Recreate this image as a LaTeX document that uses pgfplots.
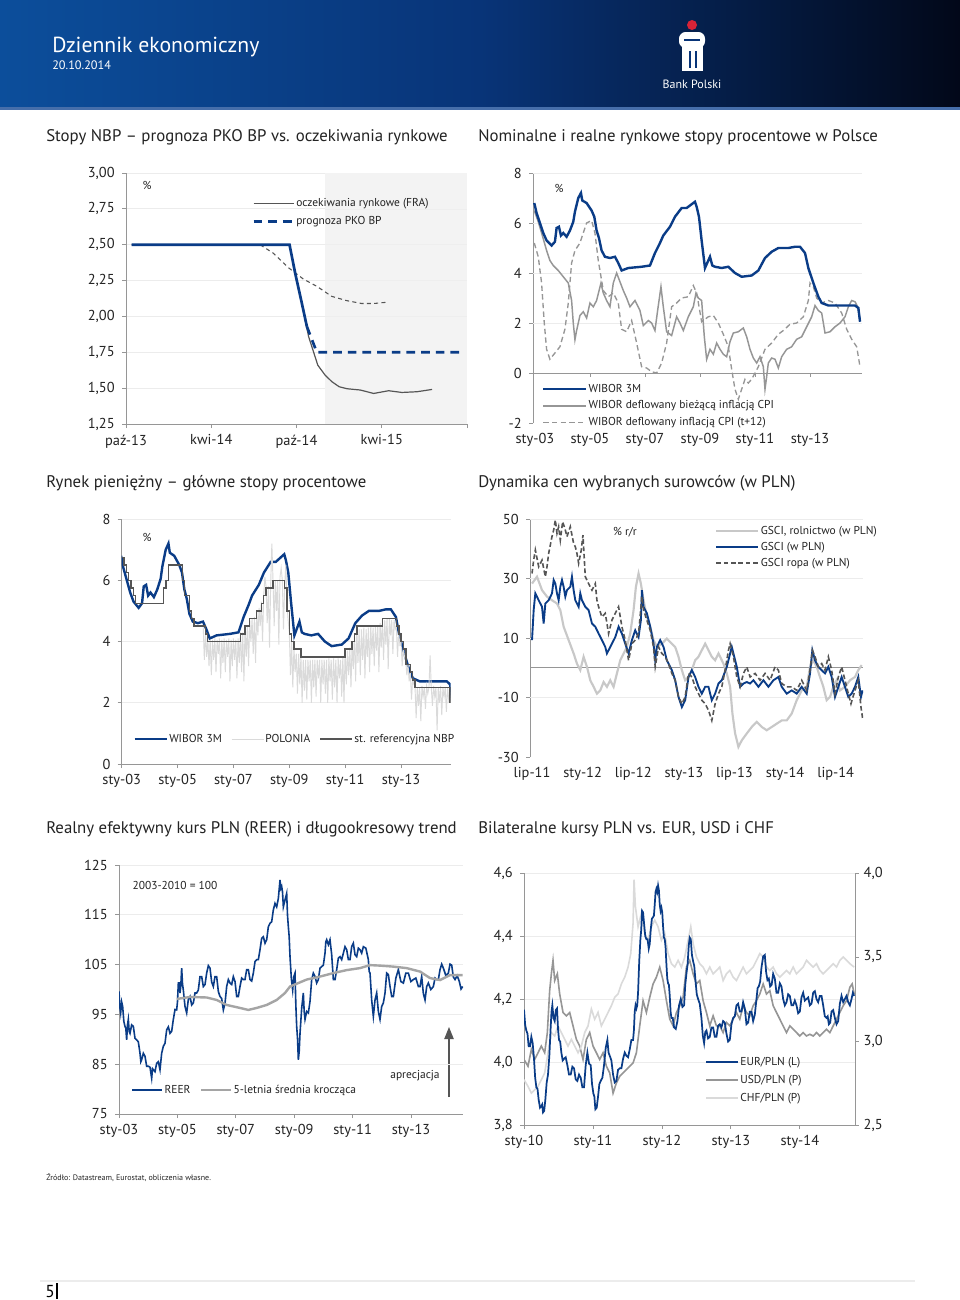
\documentclass[border=0pt]{standalone}
\usepackage{fontspec}
\setmainfont{PT Sans}
\usepackage{pgfplots}
\pgfplotsset{compat=1.18}
\usepackage{pgfplotstable}
\usetikzlibrary{arrows.meta}

\definecolor{pkoblue}{RGB}{10,60,135}
\definecolor{darkgr}{RGB}{85,85,85}
\definecolor{midgr}{RGB}{150,150,150}
\definecolor{ltgr}{RGB}{218,218,218}
\definecolor{agr}{RGB}{200,200,200}
\definecolor{avggr}{RGB}{165,165,165}
\definecolor{axisgr}{RGB}{150,150,150}
\definecolor{gridgr}{RGB}{236,236,236}
\definecolor{shadegr}{RGB}{243,243,243}
\definecolor{txt}{RGB}{35,35,35}
\definecolor{hdrL}{RGB}{12,78,155}
\definecolor{hdrM}{RGB}{8,52,120}
\definecolor{hdrR}{RGB}{2,8,25}
\definecolor{hdrline}{RGB}{70,110,170}
\definecolor{pkored}{RGB}{215,35,55}

\pgfplotsset{
  pk/.style={
    scale only axis, anchor=south west,
    axis lines*=left,
    axis line style={draw=axisgr, line width=0.6pt},
    tick align=outside, major tick length=3pt,
    tick style={draw=axisgr, line width=0.6pt},
    major grid style={draw=gridgr, line width=0.6pt},
    ticklabel style={font=\fontsize{10.8}{12}\selectfont, text=txt},
    /pgf/number format/assume math mode=true,
    yticklabel style={xshift=-2pt},
    xticklabel style={yshift=-1.5pt},
    legend cell align=left,
    legend style={draw=none, fill=none, font=\fontsize{8.6}{10}\selectfont, text=txt,
      inner sep=0pt, nodes={inner sep=1pt, text height=6.5pt, text depth=2pt}},
  },
}

% WIBOR 3M (x: chart-2 pixel column, y: %)
\pgfplotstableread{
178 6.8
185 6.4
195 6.0
205 5.6
215 5.3
230 5.1
240 5.25
245 5.8
252 5.85
258 5.5
265 5.6
275 5.45
285 5.7
295 6.05
300 6.45
310 7.0
318 7.2
322 6.9
335 6.8
350 6.5
358 6.25
365 5.7
372 5.4
380 4.9
390 4.65
405 4.6
420 4.65
430 4.4
440 4.1
460 4.2
500 4.25
525 4.3
540 4.8
555 5.2
565 5.5
585 5.85
600 6.25
620 6.6
635 6.6
645 6.7
660 6.85
665 6.65
672 6.25
680 5.3
690 4.2
700 4.5
705 4.65
712 4.3
720 4.25
740 4.2
760 4.25
780 4.0
800 3.85
830 3.9
850 4.1
870 4.6
890 4.85
910 5.0
940 5.0
960 5.05
975 5.05
990 4.8
1000 4.2
1015 3.6
1030 3.05
1040 2.8
1060 2.7
1140 2.7
1150 2.6
1155 2.05
}\wibor

\begin{document}
\begin{tikzpicture}
\begin{scope}[x=0.75pt,y=-0.75pt]
\fill[white] (0,0) rectangle (960,1300);
\shade[left color=hdrL,right color=hdrM] (0,0) rectangle (480,108);
\shade[left color=hdrM,right color=hdrR] (480,0) rectangle (960,108);
\fill[hdrline] (0,107) rectangle (960,110);
\node[anchor=base west, text=white, font=\fontsize{16.3}{18}\selectfont, inner sep=0] at (52,52) {Dziennik ekonomiczny};
\node[anchor=base west, text=white, font=\fontsize{9.2}{10}\selectfont, inner sep=0] at (52,69) {20.10.2014};
% logo
\fill[pkored] (692,25) circle (5);
\fill[white, rounded corners=5] (679,32) rectangle (705,48);
\fill[white] (682,45) rectangle (703,71);
\fill[hdrM] (684,38.5) rectangle (700,41);
\fill[hdrM] (688.5,51) rectangle (690.5,68);
\fill[hdrM] (695,51) rectangle (697,68);
\node[text=white, font=\fontsize{9}{10}\selectfont] at (692,84) {Bank Polski};
% titles
\begin{scope}[every node/.style={anchor=base west, inner sep=0, text=txt, font=\fontsize{12.6}{14}\selectfont}]
\node at (46,141) {Stopy NBP – prognoza PKO BP vs. oczekiwania rynkowe};
\node at (478,141) {Nominalne i realne rynkowe stopy procentowe w Polsce};
\node at (46,487) {Rynek pieniężny – główne stopy procentowe};
\node at (478,487) {Dynamika cen wybranych surowców (w PLN)};
\node at (46,833) {Realny efektywny kurs PLN (REER) i długookresowy trend};
\node at (478,833) {Bilateralne kursy PLN vs. EUR, USD i CHF};
\end{scope}
% annotations
\begin{scope}[every node/.style={inner sep=0, text=txt, font=\fontsize{8.6}{10}\selectfont}]
\node at (147,185) {\%};
\node at (383,322) {3 miesiące temu};
\node at (401,403) {obecnie};
\node at (559,188) {\%};
\node at (147,537) {\%};
\node at (625,532) {\% r/r};
\node at (175,885) {2003-2010 = 100};
\node at (415,1076) {aprecjacja};
\end{scope}
\draw[darkgr, line width=0.8pt, -{Triangle[length=9pt,width=7pt]}] (449,1097) -- (449,1027);
% footer
\node[anchor=base west, inner sep=0, text=txt, font=\fontsize{6}{7}\selectfont] at (46,1180) {Źródło: Datastream, Eurostat, obliczenia własne.};
\draw[gridgr, line width=0.8pt] (40,1281) -- (915,1281);
\node[anchor=base west, inner sep=0, text=black, font=\fontsize{13}{15}\selectfont] at (45,1297) {5};
\draw[black, line width=1pt] (57,1283) -- (57,1299);
\end{scope}

%================ Chart 1
\begin{axis}[pk, at={(94.5pt,-318pt)}, width=255.75pt, height=188.25pt,
  xmin=0, xmax=24, ymin=1.25, ymax=3.0,
  xtick={0,6,12,18,24}, xticklabels={paź-13,kwi-14,paź-14,kwi-15,},
  ytick={1.25,1.5,1.75,2,2.25,2.5,2.75,3},
  yticklabel={\pgfmathprintnumber[fixed,fixed zerofill,precision=2,use comma]{\tick}},
  ymajorgrids,
  legend style={at={(0.3695,0.908)}, anchor=north west, row sep=3pt},
  legend image code/.code={\draw[#1] (0pt,0pt) -- (30pt,0pt);},
]
\fill[shadegr] (axis cs:14,1.25) rectangle (axis cs:24,3.0);
\pgfplotsinvokeforeach{2,2.25,2.5,2.75}{\draw[gridgr!70!shadegr, line width=0.4pt] (axis cs:14,#1) -- (axis cs:24,#1);}
\addplot[darkgr, line width=0.9pt] table {
0.4 2.5
11.51 2.5
11.91 2.30
12.38 2.09
12.85 1.86
13.5 1.66
14.02 1.59
14.49 1.545
15.0 1.51
15.55 1.496
16.49 1.487
17.43 1.463
18.48 1.482
19.42 1.470
20.48 1.475
21.54 1.491
};
\addlegendentry{oczekiwania rynkowe (FRA)}
\addplot[darkgr, line width=0.8pt, dash pattern=on 3pt off 2.5pt, forget plot] table {
9.44 2.5
10.38 2.44
11.43 2.34
12.49 2.26
13.43 2.21
14.48 2.14
15.54 2.11
16.6 2.09
17.42 2.09
18.47 2.10
};
\addplot[pkoblue, line width=2pt, forget plot] table {
0.4 2.5
11.51 2.5
11.91 2.30
12.38 2.09
12.73 1.93
};
\addplot[pkoblue, line width=2pt, dash pattern=on 6.5pt off 4.5pt] table {
12.73 1.93
13.43 1.75
23.65 1.75
};
\addlegendentry{prognoza PKO BP}
\end{axis}

%================ Chart 2
\begin{axis}[pk, at={(399.75pt,-317.25pt)}, width=246.75pt, height=187.5pt,
  xmin=2002.93, xmax=2014.89, ymin=-2, ymax=8,
  xtick={2003,2005,2007,2009,2011,2013}, xticklabels={sty-03,sty-05,sty-07,sty-09,sty-11,sty-13},
  x axis line style={draw=none}, xtick style={draw=none},
  ytick={-2,0,2,4,6,8},
  reverse legend,
  legend style={at={(0.027,0.164)}, anchor=north west, row sep=1.9pt},
  legend image code/.code={\draw[#1] (0pt,0pt) -- (32pt,0pt);},
]
\pgfplotsinvokeforeach{2,4,6,8}{\draw[gridgr, line width=0.6pt] (axis cs:2002.93,#1) -- (axis cs:2014.89,#1);}
\draw[axisgr, line width=0.7pt] (axis cs:2002.93,0) -- (axis cs:2014.89,0);
\pgfplotsinvokeforeach{2005,2007,2009,2011,2013}{\draw[axisgr, line width=0.6pt] (axis cs:#1,0) -- (axis cs:#1,-0.16);}
\addplot[midgr, line width=1pt, dash pattern=on 4pt off 2.5pt] table[x expr={2003+(\thisrowno{0}-180)/82.5}, y index=1] {
178 5.2
190 4.65
200 3.6
208 2.0
215 0.95
225 0.55
240 0.8
255 1.05
270 1.75
280 2.8
290 4.4
300 4.9
315 5.2
335 6.0
350 6.1
360 5.6
370 4.5
385 3.3
400 3.05
415 3.2
430 2.8
440 1.75
455 1.65
470 2.1
485 1.2
500 0.25
515 0.2
530 0.05
545 0.0
560 0.4
575 1.2
590 2.65
605 2.8
620 3.0
640 3.05
655 3.5
665 3.2
680 2.05
700 2.25
715 2.3
730 2.0
745 1.55
760 1.05
770 0.15
780 -0.65
790 -1.05
800 -0.65
810 -0.25
820 -0.4
830 -0.25
840 0.0
850 0.25
870 0.95
890 1.2
910 1.55
925 1.7
945 1.95
965 2.0
985 2.25
1000 2.9
1005 3.6
1015 3.45
1025 3.0
1040 2.8
1060 2.9
1080 2.8
1100 2.4
1115 1.75
1130 1.35
1145 1.05
1155 0.25
};
\addlegendentry{WIBOR deflowany inflacją CPI (t+12)}
\addplot[midgr, line width=1.1pt] table[x expr={2003+(\thisrowno{0}-180)/82.5}, y index=1] {
178 6.5
190 6.05
200 5.6
215 4.9
225 4.5
235 4.3
250 4.1
265 3.85
280 3.6
290 2.9
295 2.0
300 1.33
305 1.7
315 2.3
325 2.45
335 2.2
345 2.8
355 2.65
365 2.9
378 3.6
385 3.2
395 2.9
405 2.65
415 3.6
425 4.0
435 3.65
445 3.3
455 3.0
465 2.65
480 2.9
495 2.5
505 1.9
520 2.1
530 2.0
540 1.7
548 2.5
558 3.45
565 2.65
575 1.65
590 1.5
605 2.25
615 2.0
625 1.7
640 2.25
655 2.65
663 3.2
670 3.0
680 2.9
688 1.45
695 0.55
705 0.95
715 0.75
725 1.2
735 0.95
745 0.75
755 0.65
765 1.25
775 1.6
790 1.65
805 1.8
815 1.45
825 0.95
835 0.6
845 0.4
855 0.65
865 0.25
870 -0.65
875 -0.15
880 0.4
890 0.6
900 0.55
910 0.2
920 0.65
935 0.95
950 1.05
965 1.35
980 1.45
995 1.85
1010 2.25
1020 2.7
1030 2.5
1040 2.4
1050 1.6
1065 1.65
1080 1.85
1095 2.0
1110 2.25
1120 2.65
1130 2.9
1140 2.85
1148 2.65
1155 2.1
};
\addlegendentry{WIBOR deflowany bieżącą inflacją CPI}
\addplot[pkoblue, line width=1.8pt] table[x expr={2003+(\thisrowno{0}-180)/82.5}, y index=1] {\wibor};
\addlegendentry{WIBOR 3M}
\end{axis}

%================ Chart 3
\begin{axis}[pk, at={(91.3pt,-573pt)}, width=246.75pt, height=183.75pt,
  xmin=2003, xmax=2014.78, ymin=0, ymax=8,
  xtick={2003,2005,2007,2009,2011,2013}, xticklabels={sty-03,sty-05,sty-07,sty-09,sty-11,sty-13},
  ytick={0,2,4,6,8}, ymajorgrids,
  legend columns=3,
  legend style={at={(0.035,0.131)}, anchor=north west, /tikz/every even column/.append style={column sep=6pt}},
  legend image code/.code={\draw[#1] (0pt,0pt) -- (24pt,0pt);},
]
\addplot[pkoblue, line width=1.8pt] table[x expr={2003+(\thisrowno{0}-180)/82.5}, y index=1] {\wibor};
\addlegendentry{WIBOR 3M}
\addplot[ltgr, line width=0.7pt] table[x expr={2003+\thisrowno{0}/12}, y index=1] {
35 4.5
35.5 3.4
36 4.3
36.5 3.5
37 4.05
37.5 3.2
38 4.05
38.5 2.9
39 4.05
39.5 3.4
40 4.1
40.5 3.0
41 4.05
41.5 3.6
42 4.1
42.5 2.8
43 4.05
43.5 3.3
44 4.1
44.5 3.0
45 4.05
45.5 3.5
46 4.1
46.5 2.7
47 4.05
47.5 3.2
48 4.1
48.5 3.4
49 4.05
49.5 2.8
50 4.1
50.5 3.3
51 4.3
51.5 3.0
52 4.3
52.5 2.7
53 4.5
53.5 3.5
54 4.5
54.5 3.2
55 4.7
55.5 4.0
56 4.75
56.5 3.6
57 4.8
57.5 3.3
58 5.0
58.5 4.2
59 5.1
59.5 4.5
60 5.3
60.5 4.0
61 5.5
61.5 6.1
62 5.8
62.5 4.6
63 5.8
63.5 3.8
64 5.9
64.5 7.2
65 6.0
65.5 4.5
66 6.0
66.5 5.0
67 6.0
67.5 3.9
68 6.1
68.5 6.4
69 6.0
69.5 4.4
70 5.8
70.5 6.5
71 5.2
71.5 4.7
72 4.3
72.5 2.9
73 4.0
73.5 2.5
74 3.8
74.5 3.0
75 3.6
75.5 2.3
76 3.6
76.5 2.6
77 3.5
77.5 2.0
78 3.4
78.5 2.4
79 3.4
79.5 2.1
80 3.4
80.5 2.7
81 3.4
81.5 2.0
82 3.4
82.5 2.5
83 3.4
83.5 2.2
84 3.4
84.5 2.8
85 3.4
85.5 2.0
86 3.4
86.5 2.6
87 3.4
87.5 2.3
88 3.4
88.5 2.0
89 3.45
89.5 2.7
90 3.4
90.5 2.1
91 3.45
91.5 2.5
92 3.4
92.5 2.0
93 3.45
93.5 2.8
94 3.4
94.5 2.2
95 3.5
95.5 2.0
96 3.7
96.5 2.6
97 3.7
97.5 2.9
98 3.8
98.5 2.5
99 4.0
99.5 3.1
100 4.2
100.5 2.7
101 4.4
101.5 3.3
102 4.4
102.5 2.9
103 4.4
103.5 3.4
104 4.45
104.5 2.8
105 4.4
105.5 3.5
106 4.45
106.5 3.0
107 4.5
107.5 3.6
108 4.45
108.5 3.2
109 4.5
109.5 3.7
110 4.5
110.5 3.0
111 4.6
111.5 3.8
112 4.7
112.5 3.4
113 4.7
113.5 3.9
114 4.75
114.5 3.1
115 4.75
115.5 4.2
116 4.7
116.5 3.6
117 4.7
117.5 4.4
118 4.5
118.5 3.5
119 4.3
119.5 3.9
120 4.0
120.5 3.2
121 3.8
121.5 3.5
122 3.4
122.5 2.9
123 3.25
123.5 2.7
124 3.0
124.5 2.1
125 2.8
125.5 2.6
126 2.55
126.5 1.5
127 2.5
127.5 1.9
128 2.5
128.5 1.4
129 2.55
129.5 2.2
130 2.5
130.5 1.8
131 2.55
131.5 2.3
132 2.5
132.5 3.55
133 2.5
133.5 1.9
134 2.55
134.5 2.2
135 2.5
135.5 1.1
136 2.5
136.5 2.0
137 2.55
137.5 1.6
138 2.5
138.5 2.2
139 2.5
139.5 1.7
140 2.5
140.5 2.1
141 2.3
141.3 2.0
};
\addlegendentry{POLONIA}
\addplot[darkgr, line width=1.1pt, const plot] table {
2003.00 6.75
2003.08 6.50
2003.17 6.25
2003.25 6.00
2003.33 5.75
2003.42 5.50
2003.50 5.25
2004.50 5.75
2004.58 6.00
2004.67 6.50
2005.17 6.00
2005.25 5.50
2005.42 5.00
2005.50 4.75
2005.58 4.50
2006.00 4.25
2006.08 4.00
2007.25 4.25
2007.42 4.50
2007.58 4.75
2007.83 5.00
2008.00 5.25
2008.08 5.50
2008.17 5.75
2008.42 6.00
2008.83 5.75
2008.92 5.00
2009.00 4.25
2009.08 4.00
2009.17 3.75
2009.42 3.50
2011.00 3.75
2011.25 4.00
2011.33 4.25
2011.42 4.50
2012.33 4.75
2012.83 4.50
2012.92 4.25
2013.00 4.00
2013.08 3.75
2013.17 3.25
2013.33 3.00
2013.42 2.75
2013.50 2.50
2014.75 2.00
2014.78 2.00
};
\addlegendentry{st. referencyjna NBP}
\end{axis}

%================ Chart 4
\begin{axis}[pk, at={(397.5pt,-567.75pt)}, width=249.75pt, height=178.5pt,
  xmin=2011.48, xmax=2014.77, ymin=-30, ymax=50,
  xtick={2011.5,2012,2012.5,2013,2013.5,2014,2014.5},
  xticklabels={lip-11,sty-12,lip-12,sty-13,lip-13,sty-14,lip-14},
  x axis line style={draw=none}, xtick style={draw=none},
  ytick={-30,-10,10,30,50},
  legend style={at={(0.556,0.979)}, anchor=north west, row sep=1.5pt},
  legend image code/.code={\draw[#1] (0pt,0pt) -- (31.5pt,0pt);},
]
\pgfplotsinvokeforeach{-10,10,30,50}{\draw[gridgr, line width=0.6pt] (axis cs:2011.48,#1) -- (axis cs:2014.77,#1);}
\draw[midgr, line width=0.8pt] (axis cs:2011.48,0) -- (axis cs:2014.77,0);
\addplot[agr, line width=1.6pt] table[x expr={2011.5+(\thisrowno{0}-170)/304}, y index=1] {
170 28.3
185 30.6
200 26.1
215 23.9
230 22.7
245 21.6
255 19.4
265 13.8
280 9.3
295 4.8
305 1.4
315 -0.8
325 3.7
335 0.3
345 -4.2
355 -6.4
365 -8.7
375 -7.6
385 -4.8
395 -6.4
405 -4.2
415 -6.4
425 -1.9
435 2.5
445 4.8
455 7.0
465 11.5
475 19.4
482 27.2
490 31.7
497 28.3
505 22.7
515 17.1
525 13.8
535 9.3
545 7.0
560 8.1
575 9.8
590 8.1
600 7.0
610 3.7
620 -0.8
630 -4.2
640 -3.1
650 -0.8
660 2.5
670 3.7
680 5.9
690 8.1
700 5.9
710 3.7
720 2.5
730 4.8
745 1.4
755 -1.9
765 -6.4
772 -15.4
780 -22.1
790 -26.6
800 -24.4
815 -22.1
830 -19.9
845 -18.2
860 -19.9
875 -21.0
890 -19.9
905 -18.8
920 -17.7
935 -17.7
950 -15.4
965 -10.9
980 -7.6
995 -6.4
1005 0.3
1015 2.5
1025 0.3
1035 -3.1
1045 -6.4
1055 -10.9
1065 -9.8
1075 -6.4
1085 -4.2
1095 -7.6
1110 -6.4
1125 -4.2
1140 -3.1
1150 -0.8
1160 0.9
};
\addlegendentry{GSCI, rolnictwo (w PLN)}
\addplot[pkoblue, line width=1.4pt] table[x expr={2011.5+(\thisrowno{0}-170)/304}, y index=1] {
170 9.3
175 19.4
180 25.0
190 22.7
200 20.5
205 14.9
210 21.6
220 22.7
230 25.0
235 29.5
240 28.3
245 25.0
250 22.7
255 27.2
260 29.5
265 27.2
270 23.9
275 26.1
285 27.2
290 30.6
295 26.1
300 22.7
310 20.5
315 25.0
320 22.7
330 20.5
340 19.4
350 14.9
360 13.8
370 11.5
380 9.3
390 7.0
395 4.8
400 5.9
410 8.1
420 10.3
430 13.8
440 11.5
450 8.1
460 4.8
470 9.3
480 12.6
490 10.3
497 16.0
500 26.1
505 20.5
515 18.3
525 13.8
535 8.1
540 2.5
545 7.0
555 9.3
565 7.0
575 2.5
590 -0.8
600 -4.2
610 -9.8
620 -13.2
630 -10.9
640 -3.1
650 -0.8
660 -3.1
670 -6.4
680 -8.7
690 -6.4
700 -6.4
710 -10.9
720 -8.7
730 -5.3
740 -4.2
755 0.3
765 4.8
770 7.0
775 4.8
785 0.3
795 -6.4
805 -5.3
815 -4.8
825 -5.3
835 -4.2
850 -6.4
865 -4.2
880 -6.4
895 -4.2
910 -3.1
920 -6.4
935 -8.7
950 -7.6
965 -8.7
980 -6.4
995 -8.7
1005 -1.9
1012 5.9
1020 2.5
1030 0.3
1040 -0.8
1050 -1.9
1060 0.3
1070 -3.1
1080 -9.8
1090 -6.4
1100 -3.1
1110 -6.4
1120 -9.8
1130 -8.7
1140 -6.4
1150 -3.1
1158 -9.8
1163 -7.6
};
\addlegendentry{GSCI (w PLN)}
\addplot[darkgr, line width=1.2pt, dash pattern=on 3.5pt off 2pt] table[x expr={2011.5+(\thisrowno{0}-170)/304}, y index=1] {
170 31.7
175 36.2
180 39.6
190 34.0
200 36.2
210 30.6
215 34.0
220 38.4
230 44.1
235 46.3
240 49.7
245 45.2
250 47.4
255 42.9
262 49.1
270 46.3
275 44.1
285 47.4
295 41.8
300 40.7
305 38.4
310 35.1
318 39.6
323 44.6
330 30.6
340 28.3
350 26.1
360 28.3
365 22.7
370 20.5
380 17.1
390 18.3
400 11.5
410 16.0
420 18.3
430 20.5
440 13.8
450 9.3
460 2.5
470 8.1
480 9.3
490 11.5
500 23.9
505 19.4
515 16.0
525 12.6
535 7.0
540 0.3
550 7.0
560 4.8
570 3.7
580 1.4
590 -1.9
600 -4.2
610 -9.8
620 -12.1
630 -9.8
640 -1.9
650 -3.1
660 -6.4
670 -8.7
680 -10.9
690 -12.1
700 -14.3
710 -17.7
720 -12.1
730 -8.7
740 -6.4
750 -0.8
760 5.9
765 8.1
775 3.7
785 -3.1
795 -6.4
805 -1.9
815 0.3
825 -3.1
840 -1.9
855 -4.2
870 -1.9
885 -4.2
900 0.3
910 -0.8
920 -5.3
935 -6.4
950 -6.4
965 -7.6
980 -4.2
995 -7.6
1005 -0.8
1012 5.9
1020 3.7
1030 0.3
1040 1.4
1050 -0.8
1060 3.7
1070 -0.8
1080 -8.7
1090 -3.1
1100 0.3
1110 -4.2
1120 -8.7
1128 -12.1
1140 -7.6
1150 -4.2
1158 -13.2
1163 -17.1
};
\addlegendentry{GSCI ropa (w PLN)}
\end{axis}

%================ Chart 5
\begin{axis}[pk, at={(89.25pt,-835.5pt)}, width=258pt, height=186.75pt,
  xmin=2003, xmax=2014.78, ymin=75, ymax=125,
  xtick={2003,2005,2007,2009,2011,2013}, xticklabels={sty-03,sty-05,sty-07,sty-09,sty-11,sty-13},
  ytick={75,85,95,105,115,125}, ymajorgrids,
  legend columns=2,
  legend style={at={(0.036,0.1245)}, anchor=north west, /tikz/every even column/.append style={column sep=6pt}},
  legend image code/.code={\draw[#1] (0pt,0pt) -- (22.5pt,0pt);},
]
\addplot[pkoblue, line width=1.2pt] table[x expr={2003+(\thisrowno{0}-237)/87.6}, y index=1] {
237 99.6
239.5 96.5
242 95.3
245 97.5
248 96.6
251.5 93.6
255 92.6
257.5 92.2
260 89.9
262.5 92.9
265 94.0
267.5 91.6
270 91.2
275 92.9
280 92.6
285 90.2
290 89.9
295 89.5
300 87.2
302.5 85.5
305 85.9
310 87.2
315 86.6
320 84.6
325 84.6
330 84.4
335 82.2
337.5 84.1
340 83.9
345 83.5
350 85.2
355 85.5
360 83.9
365 87.2
370 88.6
375 89.2
380 91.9
385 92.5
390 91.2
395 91.6
400 94.0
405 96.0
410 95.9
412.5 97.6
415 101.3
417.5 101.3
420 99.3
422.5 100.8
425 104.3
427.5 101.1
430 99.9
435 96.6
440 95.3
445 98.0
450 98.6
455 96.9
460 97.3
465 99.3
470 99.3
475 99.9
480 102.6
485 102.6
490 100.6
495 101.0
500 103.3
505 104.8
510 104.3
515 101.5
520 100.6
525 102.6
530 102.6
535 99.6
540 98.6
545 98.2
550 95.9
555 97.2
560 100.6
565 102.0
570 101.3
575 101.0
580 102.6
585 101.6
590 98.6
595 98.6
600 100.6
605 102.3
610 102.0
615 102.0
620 104.0
625 104.0
630 102.0
635 101.7
640 103.3
645 105.6
650 106.0
655 106.0
660 108.0
665 110.3
670 110.6
675 109.3
680 110.0
685 112.6
690 113.3
695 113.6
700 116.0
705 117.3
710 116.6
715 118.3
720 122.0
722.5 120.3
725 120.7
727.5 119.6
730 116.6
735 118.0
740 119.3
742.5 114.9
745 112.6
747.5 110.6
750 106.6
754 102.2
758 99.9
761.5 102.6
765 103.3
767.5 96.9
770 92.6
772.5 90.2
775 85.9
777.5 87.5
780 91.2
785 96.2
790 99.3
792.5 95.6
795 94.0
800 95.6
805 95.3
810 97.6
815 102.0
820 103.3
825 102.6
830 101.3
835 102.0
840 104.3
845 104.6
850 104.9
855 107.3
857.5 109.6
860 110.0
865 109.0
870 110.0
875 107.0
880 102.0
885 102.0
890 104.0
895 106.3
900 106.6
905 106.0
910 107.3
915 108.6
920 108.0
925 106.0
930 106.0
935 108.6
940 109.3
945 107.0
950 106.6
955 108.3
960 108.0
965 107.3
970 108.6
977.5 108.3
985 106.0
987.5 103.6
990 103.3
995 97.9
1000 94.6
1005 97.9
1010 99.3
1015 95.6
1020 94.0
1025 96.6
1030 97.3
1035 99.3
1040 103.3
1045 103.0
1050 100.6
1055 98.6
1060 98.6
1067.5 102.3
1075 104.0
1082.5 101.6
1090 101.3
1097.5 103.3
1105 103.3
1112.5 101.6
1120 102.0
1127.5 102.3
1135 100.6
1140 100.6
1145 102.6
1150 99.2
1155 97.9
1160 100.6
1165 101.3
1172.5 100.0
1180 100.6
1185 102.3
1190 102.0
1195 102.0
1200 104.0
1205 105.1
1210 104.3
1217.5 102.8
1225 103.3
1230 105.1
1235 104.9
1240 102.5
1245 102.0
1251.5 102.8
1258 101.6
1263 100.1
1268 100.6
};
\addlegendentry{REER}
\addplot[avggr, line width=1.8pt] table[x expr={2003+(\thisrowno{0}-237)/87.6}, y index=1] {
410 98.1
450 98.5
500 98.4
530 97.9
560 96.9
600 96.3
625 95.9
650 96.3
680 96.9
710 97.9
735 99.3
750 100.6
775 101.3
800 102.0
840 102.6
880 103.3
920 103.9
960 104.3
990 104.9
1020 104.8
1060 104.6
1100 104.3
1140 103.6
1170 102.3
1200 101.9
1230 102.9
1268 102.9
};
\addlegendentry{5-letnia średnia krocząca}
\end{axis}

%================ Chart 6 (left axis frame and grid)
\begin{axis}[pk, at={(393pt,-843.75pt)}, width=248.25pt, height=189pt,
  xmin=2010, xmax=2014.8, ymin=3.8, ymax=4.6,
  xtick={2010,2011,2012,2013,2014}, xticklabels={sty-10,sty-11,sty-12,sty-13,sty-14},
  ytick={3.8,4.0,4.2,4.4,4.6}, ymajorgrids,
  yticklabel={\pgfmathprintnumber[fixed,fixed zerofill,precision=1,use comma]{\tick}},
]
\end{axis}
% right axis with USD, CHF and the legend
\begin{axis}[pk, at={(393pt,-843.75pt)}, width=248.25pt, height=189pt,
  axis x line=none, axis y line*=right,
  xmin=2010, xmax=2014.8, ymin=2.5, ymax=4.0,
  ytick={2.5,3.0,3.5,4.0},
  yticklabel style={xshift=2pt},
  yticklabel={\pgfmathprintnumber[fixed,fixed zerofill,precision=1,use comma]{\tick}},
  legend style={at={(0.547,0.278)}, anchor=north west, row sep=3pt},
  legend image code/.code={\draw[#1] (0pt,0pt) -- (24pt,0pt);},
]
\addlegendimage{pkoblue, line width=1.3pt}
\addlegendentry{EUR/PLN (L)}
\addplot[midgr, line width=1.2pt] table[x expr={2010+(\thisrowno{0}-148)/206.75}, y index=1] {
148 2.89
160 2.85
170 2.95
180 2.89
190 2.93
200 2.97
210 2.93
218 3.05
225 3.30
230 3.40
235 3.48
240 3.36
248 3.40
255 3.28
265 3.17
275 3.15
285 3.17
295 3.09
305 3.01
315 2.97
325 2.89
335 3.01
345 3.05
355 2.97
365 2.93
375 2.89
385 2.93
395 2.85
405 2.81
415 2.69
425 2.75
435 2.79
445 2.81
455 2.83
465 2.85
475 2.87
485 2.93
495 3.09
505 3.24
515 3.17
525 3.26
535 3.34
545 3.38
555 3.44
565 3.36
575 3.24
585 3.13
595 3.09
605 3.17
615 3.21
625 3.26
635 3.44
645 3.48
655 3.40
665 3.34
675 3.36
685 3.24
695 3.17
705 3.09
715 3.15
725 3.09
735 3.09
745 3.05
755 3.11
765 3.09
775 3.13
785 3.17
795 3.13
805 3.21
815 3.17
825 3.15
835 3.21
845 3.24
855 3.28
865 3.34
875 3.28
885 3.30
895 3.21
905 3.17
915 3.13
925 3.09
935 3.05
945 3.09
955 3.07
965 3.05
975 3.03
985 3.05
995 3.03
1005 3.04
1015 3.03
1025 3.05
1035 3.03
1045 3.05
1055 3.07
1065 3.05
1075 3.09
1085 3.13
1095 3.17
1105 3.21
1115 3.24
1125 3.32
1132 3.34
1138 3.28
};
\addlegendentry{USD/PLN (P)}
\addplot[ltgr, line width=1.2pt] table[x expr={2010+(\thisrowno{0}-148)/206.75}, y index=1] {
148 2.77
160 2.73
170 2.69
180 2.71
190 2.73
200 2.77
210 2.81
220 2.93
230 3.05
240 3.03
250 3.09
260 3.05
270 3.01
280 2.97
290 3.01
300 2.97
310 2.93
320 2.97
330 3.05
340 3.09
350 3.19
360 3.13
370 3.17
380 3.09
390 3.13
400 3.17
410 3.21
420 3.26
430 3.28
440 3.34
450 3.38
460 3.44
468 3.52
475 3.70
478 3.96
482 3.80
490 3.68
500 3.76
510 3.64
520 3.60
530 3.68
540 3.72
550 3.68
560 3.60
570 3.64
580 3.52
590 3.46
600 3.44
610 3.48
620 3.44
630 3.50
640 3.60
648 3.68
655 3.58
665 3.50
675 3.46
685 3.44
695 3.40
705 3.44
715 3.40
725 3.42
735 3.44
745 3.36
755 3.40
765 3.42
775 3.38
785 3.36
795 3.40
805 3.44
815 3.40
825 3.42
835 3.44
845 3.48
855 3.52
865 3.50
875 3.44
885 3.42
895 3.44
905 3.40
915 3.38
925 3.40
935 3.42
945 3.40
955 3.44
965 3.40
975 3.42
985 3.44
995 3.48
1005 3.46
1015 3.44
1025 3.46
1035 3.42
1045 3.40
1055 3.42
1065 3.44
1075 3.46
1085 3.44
1095 3.48
1105 3.50
1115 3.48
1125 3.46
1138 3.44
};
\addlegendentry{CHF/PLN (P)}
\end{axis}
% left axis data: EUR/PLN
\begin{axis}[scale only axis, anchor=south west, at={(393pt,-843.75pt)}, width=248.25pt, height=189pt,
  hide axis, xmin=2010, xmax=2014.8, ymin=3.8, ymax=4.6]
\addplot[pkoblue, line width=1.3pt] table[x expr={2010+(\thisrowno{0}-148)/206.75}, y index=1] {
148 4.166
151.5 4.118
155 4.10
158.5 4.09
162 4.05
166 4.05
170 4.08
174 4.06
178 4.01
181.5 3.95
185 3.92
188.5 3.915
192 3.88
196 3.855
200 3.86
202.5 3.865
205 3.84
208.5 3.845
212 3.88
216 3.935
220 3.96
224 4.02
228 4.11
230.5 4.16
233 4.18
236.5 4.14
240 4.13
243.5 4.165
247 4.17
250 4.105
253 4.07
256.5 4.065
260 4.03
264 4.005
268 4.01
273 4.015
278 3.99
283 3.96
288 3.96
293 3.985
298 3.98
303 3.945
308 3.94
313 3.96
318 3.95
323 3.92
328 3.92
333 3.99
338 4.03
343 3.995
348 3.99
352 3.93
356 3.90
359 3.89
362 3.85
366 3.855
370 3.89
374 3.93
378 3.94
383 3.95
388 3.99
393 4.045
398 4.07
401.5 4.03
405 4.02
410 4.005
415 3.96
420 3.935
425 3.94
430 3.975
435 3.98
440 3.98
445 4.01
450 4.03
455 4.02
460 4.015
465 4.04
470 4.07
475 4.07
477.5 4.10
480 4.16
482.5 4.18
485 4.17
487.5 4.18
490 4.22
493.5 4.32
497 4.39
499.5 4.42
502 4.48
505 4.475
508 4.44
511.5 4.40
515 4.39
518.5 4.39
522 4.36
525 4.375
528 4.42
531.5 4.455
535 4.46
537.5 4.465
540 4.50
542.5 4.54
545 4.55
547.5 4.54
550 4.56
552.5 4.545
555 4.50
557.5 4.48
560 4.49
562.5 4.475
565 4.43
567.5 4.395
570 4.39
572.5 4.365
575 4.31
577.5 4.265
580 4.25
582.5 4.245
585 4.21
587.5 4.16
590 4.14
594 4.14
598 4.11
603 4.105
608 4.13
613 4.18
618 4.20
623 4.175
628 4.18
631.5 4.245
635 4.28
638.5 4.31
642 4.37
645 4.395
648 4.39
651.5 4.34
655 4.32
658.5 4.305
662 4.26
666 4.215
670 4.20
675 4.185
680 4.14
684 4.085
688 4.06
691.5 4.095
695 4.10
700 4.075
705 4.08
710 4.11
715 4.11
720 4.08
725 4.08
730 4.115
735 4.12
740 4.11
745 4.13
750 4.125
755 4.09
760 4.065
765 4.07
770 4.12
775 4.14
780 4.145
785 4.18
790 4.185
795 4.16
800 4.16
805 4.19
810 4.17
815 4.12
820 4.125
825 4.16
830 4.16
835 4.13
840 4.15
845 4.20
848.5 4.235
852 4.24
856 4.255
860 4.30
865 4.335
870 4.34
874 4.285
878 4.26
882 4.265
886 4.24
890.5 4.245
895 4.28
900 4.265
905 4.22
910 4.22
915 4.25
920 4.24
925 4.20
930 4.18
935 4.19
940 4.215
945 4.21
950 4.18
955 4.18
960 4.195
965 4.18
970 4.155
975 4.16
980 4.205
985 4.22
990 4.195
995 4.20
1000 4.205
1005 4.18
1010 4.185
1015 4.22
1020 4.225
1025 4.20
1030 4.19
1035 4.21
1040 4.21
1045 4.18
1050 4.145
1055 4.14
1058.5 4.145
1062 4.12
1066 4.125
1070 4.16
1075 4.165
1080 4.14
1085 4.12
1090 4.13
1095 4.185
1100 4.21
1105 4.19
1110 4.20
1115 4.21
1120 4.19
1125 4.18
1130 4.20
1134 4.22
1138 4.21
};
\end{axis}
\pgfresetboundingbox
\useasboundingbox (0,0) rectangle (720pt,-975pt);
\end{tikzpicture}
\end{document}
